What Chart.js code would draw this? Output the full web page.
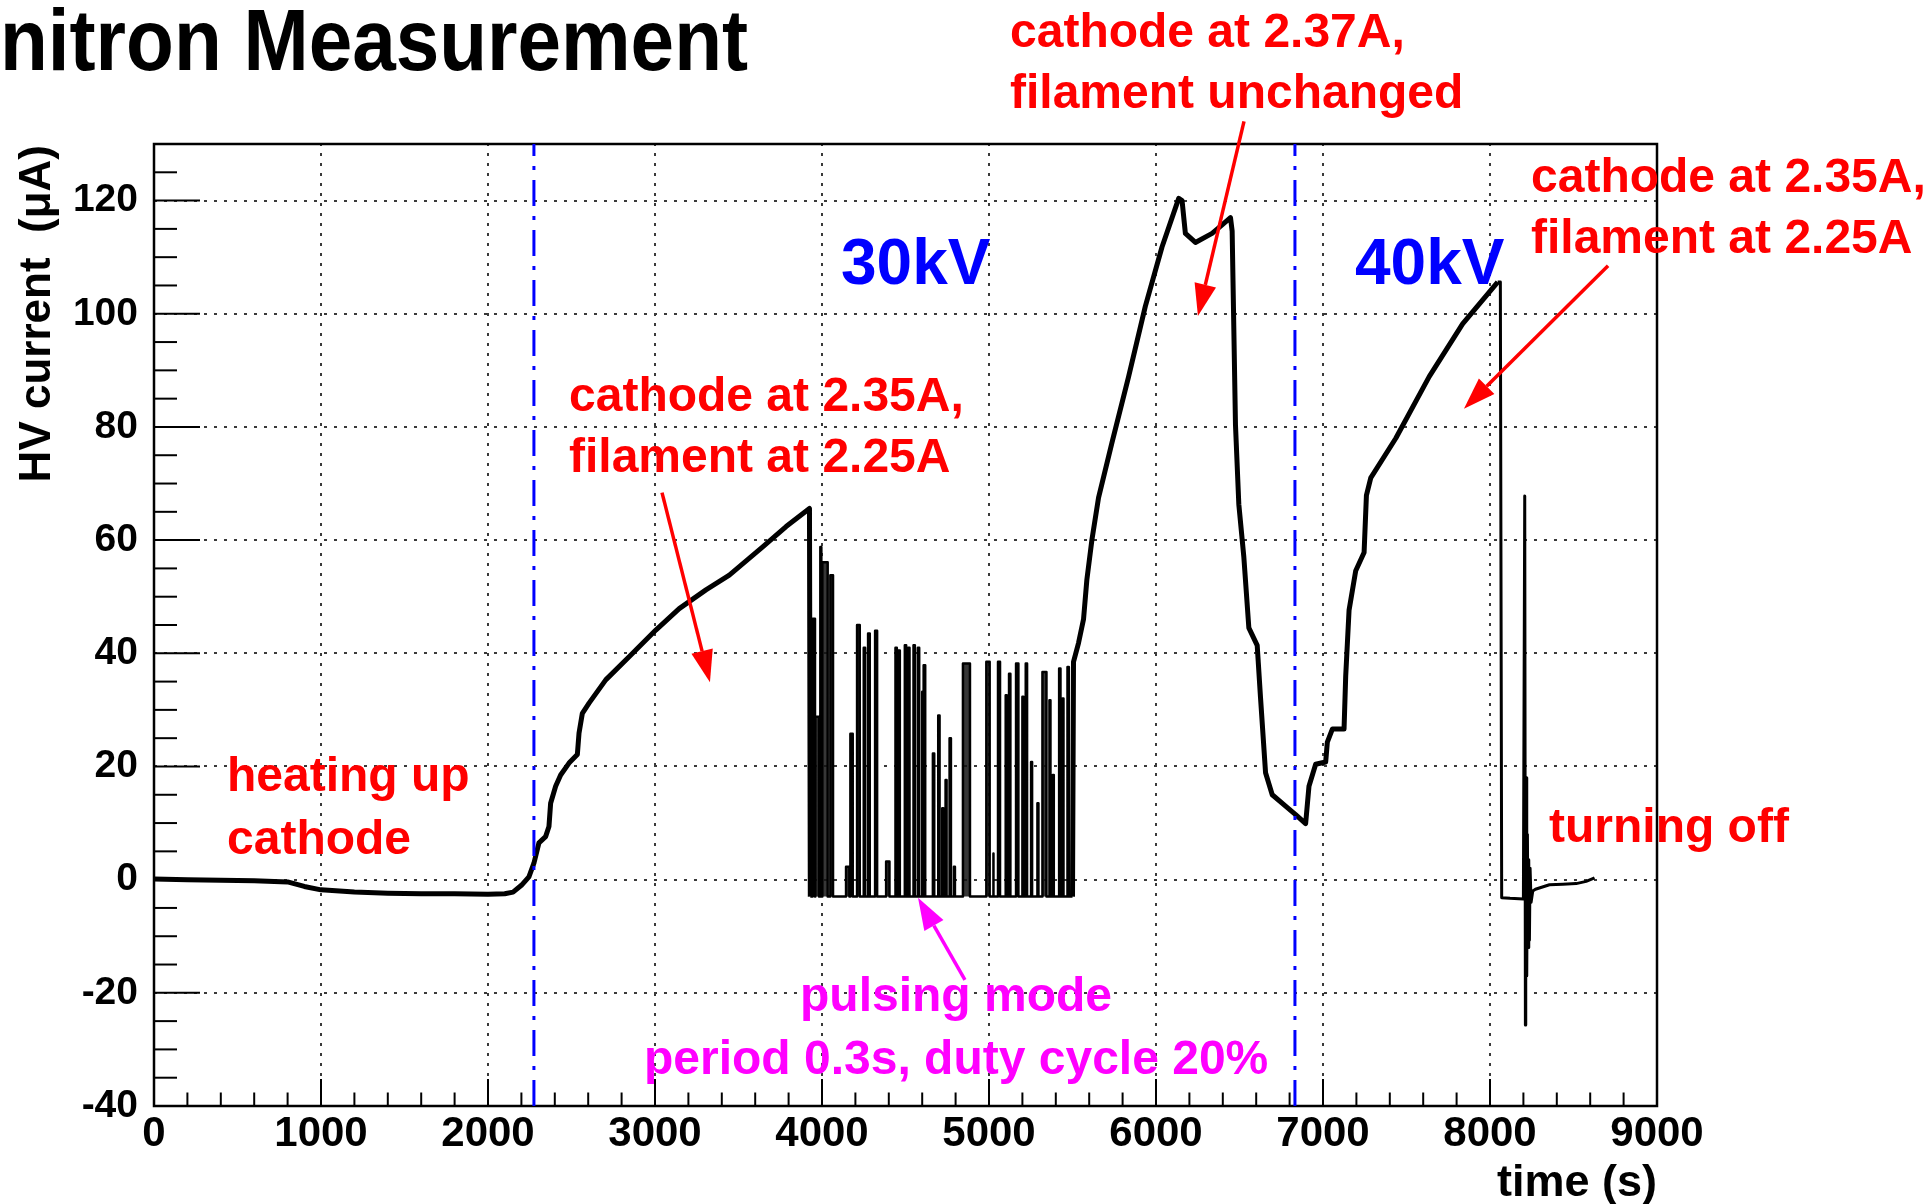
<!DOCTYPE html>
<html><head><meta charset="utf-8">
<script src="https://cdn.jsdelivr.net/npm/chart.js@4.4.1/dist/chart.umd.min.js"></script>
<style>html,body{margin:0;padding:0;background:#fff;}#wrap{width:1932px;height:1204px;}</style>
</head><body><div id="wrap"><canvas id="c" width="1932" height="1204"></canvas></div>
<script>
// ---------- DATA ----------
// warm-up at 30kV: time (s) and HV current (uA)
const warmupTime    = [0, 200, 400, 600, 800, 900, 1000, 1200, 1400, 1600, 1800, 2000, 2100, 2150, 2200, 2245, 2275, 2305, 2345, 2365, 2375, 2405, 2435, 2485, 2535, 2545, 2565, 2605, 2705, 2845, 3005, 3145, 3305, 3445, 3645, 3785, 3925, 3930];
const warmupCurrent = [0.1, 0.0, -0.1, -0.2, -0.4, -1.2, -1.8, -2.2, -2.4, -2.5, -2.5, -2.6, -2.5, -2.2, -1.0, 0.5, 2.9, 6.5, 7.6, 9.4, 13.5, 16.5, 18.5, 20.6, 22.1, 25.9, 29.4, 31.2, 35.3, 39.4, 44.1, 47.9, 51.2, 53.8, 58.8, 62.4, 65.6, -3.0];
// pulsing mode: each pulse start, end (s) and top current (uA)
const pulseStart = [3944, 3960, 3990, 4002, 4050, 4144, 4170, 4210, 4250, 4276, 4318, 4384, 4440, 4456, 4496, 4516, 4548, 4574, 4600, 4610, 4664, 4696, 4720, 4740, 4764, 4790, 4844, 4984, 5024, 5054, 5100, 5120, 5162, 5200, 5220, 5252, 5290, 5320, 5362, 5382, 5420, 5440, 5470];
const pulseEnd   = [3958, 3982, 3996, 4034, 4066, 4164, 4184, 4226, 4258, 4286, 4330, 4404, 4448, 4466, 4504, 4524, 4556, 4582, 4606, 4618, 4672, 4704, 4726, 4746, 4772, 4796, 4886, 5004, 5028, 5066, 5106, 5128, 5176, 5206, 5228, 5258, 5296, 5344, 5368, 5388, 5428, 5446, 5478];
const pulseTop   = [46.1, 28.8, 58.8, 56.1, 53.8, 2.3, 25.8, 45.0, 41.0, 43.5, 44.0, 3.2, 41.0, 40.5, 41.4, 41.0, 41.4, 41.0, 33.2, 37.9, 22.3, 29.0, 12.6, 17.6, 25.0, 2.3, 38.2, 38.5, 4.6, 38.5, 32.6, 36.4, 38.2, 32.3, 38.2, 20.8, 13.5, 36.7, 31.7, 18.5, 37.3, 32.0, 37.6];
const pulseBase  = -3.0;
const pulseRange = [3930, 5500];
// ramp 30kV -> 40kV, cathode changes
const rampTime    = [5500, 5506, 5536, 5566, 5586, 5616, 5656, 5736, 5836, 5936, 6036, 6136, 6156, 6176, 6236, 6336, 6396, 6446, 6456, 6476, 6496, 6526, 6556, 6606, 6626, 6656, 6696, 6776, 6836, 6896, 6916, 6956, 7016, 7026, 7056, 7126, 7136, 7156, 7196, 7246, 7260, 7286, 7436, 7636, 7836, 8046];
const rampCurrent = [-3.0, 38.5, 41.8, 46.0, 53.0, 60.0, 67.5, 77.2, 88.9, 101.3, 111.8, 120.4, 120.0, 114.2, 112.6, 114.2, 115.7, 117.0, 114.6, 80.3, 66.3, 57.0, 44.5, 41.4, 32.1, 18.9, 15.0, 13.0, 11.5, 9.9, 16.5, 20.4, 20.8, 24.3, 26.6, 26.6, 36.0, 47.6, 54.6, 57.8, 67.9, 71.0, 78.0, 88.9, 98.2, 105.6];
// turning off
const offTime    = [8046, 8062, 8070, 8120, 8200, 8208, 8212, 8214, 8218, 8220, 8224, 8228, 8232, 8236, 8240, 8246, 8256, 8272, 8356, 8436, 8516, 8576, 8626];
const offCurrent = [105.6, 105.6, -3.2, -3.3, -3.4, 67.8, -25.7, -3.0, 18.0, -17.0, 8.0, -12.0, 3.5, -10.7, 2.0, -4.0, -2.0, -1.7, -0.9, -0.8, -0.7, -0.3, 0.3];
// HV switch times (blue dash-dot lines)
const hvSwitchTimes = [2275, 6832];
// axis ticks
const xTickValues = [0, 1000, 2000, 3000, 4000, 5000, 6000, 7000, 8000, 9000];
const yTickValues = [-40, -20, 0, 20, 40, 60, 80, 100, 120];
const xMinorStep = 200, yMinorStep = 5;
const xRange = [0, 9000], yRange = [-40, 130];

// annotation arrows in data coordinates
const arrowsRed = [
  {from: [3042, 68.4], to: [3329, 34.9]},
  {from: [6527, 134.0], to: [6251, 99.6]},
  {from: [8707, 108.5], to: [7844, 83.2]}
];
const arrowsMagenta = [{from: [4856, -17.7], to: [4575, -3.2]}];

// ---------- build datasets ----------
const zip = (xs, ys) => xs.map((x, i) => ({x, y: ys[i]}));
const pulsePts = [{x: pulseRange[0], y: pulseBase}];
pulseStart.forEach((s, i) => {
  pulsePts.push({x: s, y: pulseBase}, {x: s, y: pulseTop[i]}, {x: pulseEnd[i], y: pulseTop[i]}, {x: pulseEnd[i], y: pulseBase});
});
pulsePts.push({x: pulseRange[1], y: pulseBase});

const FONT = "'Liberation Sans', Arial, Helvetica, sans-serif";
const lineDs = (data, w, c) => ({data, borderColor: c || '#000', borderWidth: w, pointRadius: 0, tension: 0, fill: false, borderJoinStyle: 'round'});

const deco = {
  id: 'deco',
  beforeDatasetsDraw(chart) {
    const {ctx, chartArea: a, scales: {x, y}} = chart;
    ctx.save();
    ctx.strokeStyle = '#3a3a3a'; ctx.lineWidth = 2; ctx.setLineDash([3, 7]);
    xTickValues.forEach(v => { if (v > xRange[0] && v < xRange[1]) { const p = Math.round(x.getPixelForValue(v)); ctx.beginPath(); ctx.moveTo(p, a.bottom); ctx.lineTo(p, a.top); ctx.stroke(); }});
    yTickValues.forEach(v => { if (v > yRange[0] && v < yRange[1]) { const p = Math.round(y.getPixelForValue(v)); ctx.beginPath(); ctx.moveTo(a.left, p); ctx.lineTo(a.right, p); ctx.stroke(); }});
    ctx.restore();
  },
  afterDatasetsDraw(chart) {
    const {ctx, chartArea: a, scales: {x, y}} = chart;
    ctx.save();
    // ticks
    ctx.strokeStyle = '#000'; ctx.lineWidth = 2; ctx.setLineDash([]);
    for (let v = xRange[0]; v <= xRange[1]; v += xMinorStep) {
      const p = x.getPixelForValue(v); const L = (v % 1000 === 0) ? 27 : 13.5;
      ctx.beginPath(); ctx.moveTo(p, a.bottom); ctx.lineTo(p, a.bottom - L); ctx.stroke();
    }
    for (let v = yRange[0]; v <= yRange[1]; v += yMinorStep) {
      const p = y.getPixelForValue(v); const L = (v % 20 === 0) ? 46 : 23;
      ctx.beginPath(); ctx.moveTo(a.left, p); ctx.lineTo(a.left + L, p); ctx.stroke();
    }
    // frame
    ctx.lineWidth = 2.5; ctx.strokeRect(a.left, a.top, a.right - a.left, a.bottom - a.top);
    // blue dash-dot lines
    ctx.strokeStyle = '#0000ff'; ctx.lineWidth = 3; ctx.setLineDash([26, 10, 4, 10]);
    hvSwitchTimes.forEach(t => { const p = x.getPixelForValue(t); ctx.beginPath(); ctx.moveTo(p, y.getPixelForValue(yRange[0])); ctx.lineTo(p, y.getPixelForValue(yRange[1])); ctx.stroke(); });
    ctx.setLineDash([]);
    // arrows
    const arrow = (ar, col) => {
      const x0 = x.getPixelForValue(ar.from[0]), y0 = y.getPixelForValue(ar.from[1]);
      const x1 = x.getPixelForValue(ar.to[0]), y1 = y.getPixelForValue(ar.to[1]);
      const ang = Math.atan2(y1 - y0, x1 - x0), HL = 32, HW = 11;
      const bx = x1 - HL * Math.cos(ang), by = y1 - HL * Math.sin(ang);
      ctx.strokeStyle = col; ctx.fillStyle = col; ctx.lineWidth = 3.5;
      ctx.beginPath(); ctx.moveTo(x0, y0); ctx.lineTo(bx, by); ctx.stroke();
      ctx.beginPath(); ctx.moveTo(x1, y1);
      ctx.lineTo(bx + HW * Math.sin(ang), by - HW * Math.cos(ang));
      ctx.lineTo(bx - HW * Math.sin(ang), by + HW * Math.cos(ang));
      ctx.closePath(); ctx.fill();
    };
    arrowsRed.forEach(ar => arrow(ar, '#ff0000'));
    arrowsMagenta.forEach(ar => arrow(ar, '#ff00ff'));
    // texts
    ctx.textBaseline = 'alphabetic'; ctx.textAlign = 'left';
    const txt = (s, px, py, size, col) => { ctx.font = `bold ${size}px ${FONT}`; ctx.fillStyle = col; ctx.fillText(s, px, py); };
    // condensed title: fit to the reference width
    ctx.save();
    ctx.font = `bold 88px ${FONT}`; ctx.fillStyle = '#000';
    const tw = ctx.measureText('nitron Measurement').width;
    ctx.translate(0, 70); ctx.scale(748 / tw, 1); ctx.fillText('nitron Measurement', 0, 0);
    ctx.restore();
    txt('cathode at 2.37A,', 1010, 47, 48, '#ff0000');
    txt('filament unchanged', 1010, 108, 48, '#ff0000');
    txt('cathode at 2.35A,', 1531, 192, 48, '#ff0000');
    txt('filament at 2.25A', 1531, 253, 48, '#ff0000');
    txt('cathode at 2.35A,', 569, 411, 48, '#ff0000');
    txt('filament at 2.25A', 569, 472, 48, '#ff0000');
    txt('heating up', 227, 791, 48, '#ff0000');
    txt('cathode', 227, 854, 48, '#ff0000');
    txt('turning off', 1549, 842, 48, '#ff0000');
    txt('30kV', 841, 284, 64, '#0000ff');
    txt('40kV', 1355, 284, 64, '#0000ff');
    txt('pulsing mode', 800, 1011, 48, '#ff00ff');
    txt('period 0.3s, duty cycle 20%', 644, 1074, 48, '#ff00ff');
    // axis titles
    ctx.fillStyle = '#000'; ctx.font = `bold 45px ${FONT}`;
    ctx.textAlign = 'right'; ctx.textBaseline = 'alphabetic';
    ctx.fillText('time (s)', a.right, 1196);
    ctx.save(); ctx.translate(50, a.top + 1); ctx.rotate(-Math.PI / 2);
    ctx.font = `bold 44px ${FONT}`; ctx.fillText('HV current  (\u03bcA)', 0, 0); ctx.restore();
    ctx.restore();
  }
};

const pulseDs = lineDs(pulsePts, 2.5);
pulseDs.fill = {value: pulseBase};
pulseDs.backgroundColor = 'rgba(20,20,20,0.85)';

new Chart(document.getElementById('c'), {
  type: 'line',
  data: {datasets: [
    lineDs(zip(warmupTime, warmupCurrent), 5),
    pulseDs,
    lineDs(zip(rampTime, rampCurrent), 5),
    lineDs(zip(offTime, offCurrent), 3)
  ]},
  options: {
    responsive: false, animation: false, devicePixelRatio: 1,
    layout: {padding: {left: 0, right: 275, top: 144, bottom: 0}},
    plugins: {legend: {display: false}, tooltip: {enabled: false}},
    scales: {
      x: {type: 'linear', min: xRange[0], max: xRange[1],
          afterBuildTicks: s => { s.ticks = xTickValues.map(v => ({value: v})); },
          afterFit: s => { s.height = 98; },
          grid: {display: false, drawTicks: false}, border: {display: false},
          ticks: {padding: 3, maxRotation: 0, autoSkip: false, color: '#000', font: {family: FONT, size: 42, weight: 'bold'}, callback: v => String(v)}},
      y: {type: 'linear', min: yRange[0], max: yRange[1],
          afterBuildTicks: s => { s.ticks = yTickValues.map(v => ({value: v})); },
          afterFit: s => { s.width = 154; },
          grid: {display: false, drawTicks: false}, border: {display: false},
          ticks: {padding: 16, autoSkip: false, color: '#000', font: {family: FONT, size: 39, weight: 'bold'}, callback: v => String(v)}}
    }
  },
  plugins: [deco]
});
</script></body></html>
